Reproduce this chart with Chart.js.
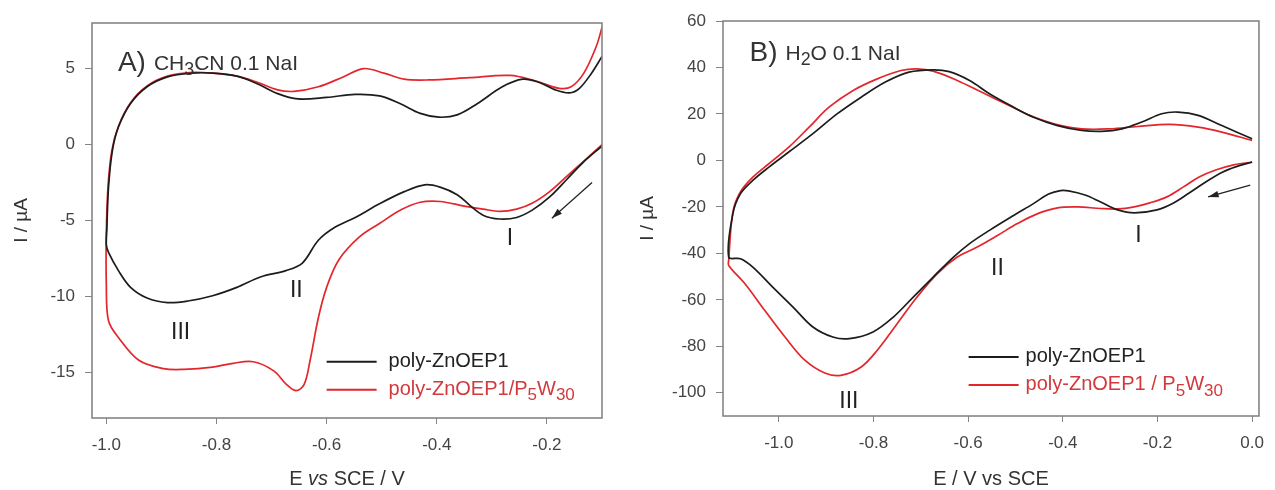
<!DOCTYPE html>
<html>
<head>
<meta charset="utf-8">
<script src="https://cdn.jsdelivr.net/npm/chart.js@4.4.1/dist/chart.umd.min.js"></script>
<style>
  html, body { margin: 0; padding: 0; background: #fff; }
  #wrap { position: relative; width: 1275px; height: 490px; }
  #cvA { position: absolute; left: 0; top: 0; }
  #cvB { position: absolute; left: 640px; top: 0; }
</style>
</head>
<body>
<div id="wrap">
  <canvas id="cvA" width="640" height="490"></canvas>
  <canvas id="cvB" width="635" height="490"></canvas>
</div>
<script>
// ---- panel A: CH3CN 0.1 NaI (E / V, I / uA) ----
// cathodic sweep from the right end, then the return sweep
const aBlackE = [-0.100, -0.135, -0.164, -0.195, -0.226, -0.255, -0.286, -0.316, -0.340, -0.363, -0.394, -0.422, -0.459, -0.504, -0.548, -0.585, -0.615, -0.644, -0.674, -0.719, -0.763, -0.807, -0.852, -0.889, -0.926, -0.956, -0.978, -0.996, -1.000,
                 -0.999, -0.996, -0.989, -0.978, -0.956, -0.926, -0.889, -0.844, -0.807, -0.763, -0.726, -0.689, -0.652, -0.600, -0.548, -0.504, -0.467, -0.430, -0.396, -0.363, -0.326, -0.281, -0.244, -0.215, -0.185, -0.159, -0.141, -0.119, -0.100];
const aBlackI = [-0.1, -1.2, -2.3, -3.45, -4.3, -4.8, -4.9, -4.65, -4.0, -3.3, -2.8, -2.65, -3.1, -3.9, -4.8, -5.45, -6.3, -7.8, -8.3, -8.7, -9.4, -9.95, -10.3, -10.4, -10.1, -9.4, -8.3, -7.1, -6.6,
                 -5.5, -2.8, -0.4, 1.15, 2.7, 3.8, 4.45, 4.7, 4.7, 4.5, 4.0, 3.35, 3.0, 3.1, 3.3, 3.2, 2.7, 2.05, 1.8, 1.95, 2.7, 3.8, 4.3, 4.1, 3.6, 3.4, 3.7, 4.7, 5.8];
const aRedE = [-0.100, -0.135, -0.164, -0.195, -0.226, -0.255, -0.286, -0.316, -0.350, -0.394, -0.430, -0.465, -0.504, -0.541, -0.578, -0.600, -0.615, -0.630, -0.641, -0.656, -0.674, -0.696, -0.733, -0.770, -0.807, -0.859, -0.896, -0.941, -0.978, -0.996, -1.000,
               -1.000, -0.997, -0.990, -0.978, -0.956, -0.926, -0.889, -0.844, -0.807, -0.763, -0.726, -0.689, -0.659, -0.615, -0.570, -0.533, -0.496, -0.459, -0.415, -0.341, -0.267, -0.222, -0.178, -0.156, -0.133, -0.111, -0.100];
const aRedI = [0.0, -1.15, -2.1, -3.1, -3.85, -4.25, -4.4, -4.25, -4.05, -3.75, -3.8, -4.3, -5.2, -6.1, -7.6, -9.4, -11.4, -14.2, -15.8, -16.2, -15.75, -14.9, -14.3, -14.4, -14.65, -14.8, -14.75, -14.2, -12.7, -11.6, -9.2,
               -5.9, -2.8, -0.4, 1.2, 2.75, 3.85, 4.5, 4.75, 4.7, 4.5, 4.1, 3.6, 3.5, 3.8, 4.45, 5.0, 4.7, 4.3, 4.25, 4.4, 4.55, 4.2, 3.7, 3.8, 4.7, 6.4, 7.7];
const aTicksE = [-1.0, -0.8, -0.6, -0.4, -0.2];
const aTicksI = [-15, -10, -5, 0, 5];

// ---- panel B: H2O 0.1 NaI ----
const bBlackE = [0.000, -0.035, -0.062, -0.098, -0.133, -0.166, -0.201, -0.249, -0.284, -0.320, -0.353, -0.388, -0.405, -0.430, -0.462, -0.504, -0.555, -0.597, -0.631, -0.674, -0.716, -0.758, -0.801, -0.851, -0.886, -0.928, -0.970, -1.013, -1.055, -1.081, -1.106,
                 -1.097, -1.081, -1.055, -1.021, -0.979, -0.928, -0.877, -0.826, -0.775, -0.725, -0.674, -0.640, -0.597, -0.555, -0.504, -0.462, -0.411, -0.360, -0.318, -0.275, -0.233, -0.191, -0.157, -0.114, -0.064, 0.000];
const bBlackI = [-0.7, -2.8, -5.0, -9.3, -14.0, -18.3, -21.3, -22.6, -21.3, -17.9, -14.9, -13.1, -13.0, -14.5, -18.6, -23.7, -30.1, -35.8, -41.6, -50.2, -58.8, -67.4, -73.8, -76.7, -76, -71.7, -63.1, -54.5, -45.9, -42.3, -41.6,
                 -22.9, -14.3, -8.6, -2.9, 3.6, 11.5, 20, 27.2, 33.7, 38.0, 39.0, 38.2, 34.4, 28.7, 22.9, 18.6, 15, 12.9, 12.5, 13.6, 16.5, 20.1, 20.8, 19.4, 15, 9.3];
const bRedE = [0.000, -0.041, -0.077, -0.112, -0.145, -0.180, -0.216, -0.249, -0.284, -0.320, -0.369, -0.411, -0.453, -0.496, -0.538, -0.581, -0.623, -0.665, -0.708, -0.750, -0.792, -0.826, -0.869, -0.903, -0.945, -0.987, -1.030, -1.072, -1.106,
               -1.106, -1.097, -1.081, -1.055, -1.021, -0.979, -0.936, -0.894, -0.843, -0.792, -0.742, -0.708, -0.674, -0.623, -0.572, -0.521, -0.470, -0.419, -0.360, -0.301, -0.242, -0.174, -0.114, -0.064, 0.000];
const bRedI = [-0.7, -2.0, -4.1, -7.1, -11.4, -15.7, -18.3, -20, -20.9, -20.7, -20, -20.4, -22.9, -27.2, -32.3, -37.3, -41.6, -48.7, -58.8, -70.3, -81.7, -88.9, -92.5, -91.5, -86, -76, -64.5, -53, -45.2,
               -43, -22, -13.5, -7.2, -1.4, 5.7, 14.3, 22.9, 30.1, 35.1, 38.7, 39.4, 38.4, 34.4, 29.4, 24.4, 19.4, 15.8, 13.6, 13.6, 14.6, 15.5, 14.3, 12.2, 8.6];
const bTicksE = [-1.0, -0.8, -0.6, -0.4, -0.2, 0.0];
const bTicksI = [-100, -80, -60, -40, -20, 0, 20, 40, 60];

const FONT = '"Liberation Sans", Arial, sans-serif';
const BLACK = '#1c1c1c';
const RED = '#e3262b';

function pts(es, is) { return es.map((e, k) => ({ x: e, y: is[k] })); }

// text with _{sub} and *italic* pieces, left aligned, returns width
function rich(ctx, str, x, y, size, color, draw) {
  const parts = [];
  const re = /_\{([^}]*)\}|\*([^*]*)\*/g;
  let last = 0, m;
  while ((m = re.exec(str))) {
    if (m.index > last) parts.push({ t: str.slice(last, m.index) });
    if (m[1] !== undefined) parts.push({ t: m[1], sub: true });
    else parts.push({ t: m[2], it: true });
    last = re.lastIndex;
  }
  if (last < str.length) parts.push({ t: str.slice(last) });
  const font = p => (p.it ? 'italic ' : '') + (p.sub ? size * 0.85 : size) + 'px ' + FONT;
  ctx.fillStyle = color;
  ctx.textBaseline = 'middle';
  ctx.textAlign = 'left';
  let cx = x;
  parts.forEach(p => {
    ctx.font = font(p);
    if (draw !== false) ctx.fillText(p.t, cx, y + (p.sub ? size * 0.3 : 0));
    cx += ctx.measureText(p.t).width;
  });
  return cx - x;
}

function decor(cfg) {
  return {
    id: 'decor',
    afterDatasetsDraw(chart) {
      const { ctx, chartArea: a, scales: { x, y } } = chart;
      ctx.save();
      ctx.strokeStyle = '#858585';
      ctx.lineWidth = 1.6;
      ctx.strokeRect(a.left, a.top, a.width, a.height);

      // panel tag
      ctx.fillStyle = '#333';
      ctx.font = '28px ' + FONT;
      ctx.textBaseline = 'middle';
      ctx.textAlign = 'left';
      const tx = x.getPixelForValue(cfg.tag.e), ty = y.getPixelForValue(cfg.tag.i);
      ctx.fillText(cfg.tag.text, tx, ty);
      const tw = ctx.measureText(cfg.tag.text).width + 8;
      rich(ctx, cfg.tag.caption, tx + tw, ty + 1, 21, '#333');

      // peak labels
      ctx.fillStyle = '#222';
      cfg.peaks.forEach(p => {
        ctx.font = '23px ' + FONT;
        ctx.textAlign = 'center';
        ctx.textBaseline = 'middle';
        ctx.fillText(p.text, x.getPixelForValue(p.e), y.getPixelForValue(p.i));
      });

      // scan direction arrow
      const x0 = x.getPixelForValue(cfg.arrow.e0), y0 = y.getPixelForValue(cfg.arrow.i0);
      const x1 = x.getPixelForValue(cfg.arrow.e1), y1 = y.getPixelForValue(cfg.arrow.i1);
      ctx.strokeStyle = '#222';
      ctx.lineWidth = 1.3;
      ctx.beginPath(); ctx.moveTo(x0, y0); ctx.lineTo(x1, y1); ctx.stroke();
      const ang = Math.atan2(y1 - y0, x1 - x0);
      ctx.fillStyle = '#222';
      ctx.beginPath();
      ctx.moveTo(x1, y1);
      ctx.lineTo(x1 - 11 * Math.cos(ang - 0.3), y1 - 11 * Math.sin(ang - 0.3));
      ctx.lineTo(x1 - 11 * Math.cos(ang + 0.3), y1 - 11 * Math.sin(ang + 0.3));
      ctx.closePath(); ctx.fill();

      // legend
      const lx = x.getPixelForValue(cfg.legend.e), ly = y.getPixelForValue(cfg.legend.i);
      chart.data.datasets.forEach((ds, k) => {
        const yy = ly + k * cfg.legend.gap;
        ctx.strokeStyle = ds.borderColor;
        ctx.lineWidth = 2;
        ctx.beginPath(); ctx.moveTo(lx, yy); ctx.lineTo(lx + 50, yy); ctx.stroke();
        rich(ctx, ds.label, lx + cfg.legend.textDx, yy, 20, k === 0 ? '#222' : '#d3383c');
      });

      // axis titles
      const cxm = (a.left + a.right) / 2;
      const wTitle = rich(ctx, cfg.xTitle, 0, 0, 20, '#333', false);
      rich(ctx, cfg.xTitle, cxm - wTitle / 2, 479, 20, '#333');
      ctx.translate(cfg.yTitleX, (a.top + a.bottom) / 2);
      ctx.rotate(-Math.PI / 2);
      ctx.font = '19px ' + FONT;
      ctx.textAlign = 'center';
      ctx.textBaseline = 'middle';
      ctx.fillStyle = '#333';
      ctx.fillText(cfg.yTitle, 0, 0);
      ctx.restore();
    }
  };
}

function panel(id, o) {
  return new Chart(document.getElementById(id), {
    type: 'line',
    data: {
      datasets: [
        { label: 'poly-ZnOEP1', data: o.black, borderColor: BLACK },
        { label: o.redLabel, data: o.red, borderColor: RED }
      ]
    },
    options: {
      responsive: false,
      animation: false,
      events: [],
      parsing: false,
      elements: {
        line: { borderWidth: 1.7, tension: 0.35, fill: false },
        point: { radius: 0 }
      },
      layout: { padding: o.pad },
      plugins: { legend: { display: false }, tooltip: { enabled: false } },
      scales: {
        x: {
          type: 'linear', min: o.xMin, max: o.xMax,
          afterBuildTicks: s => { s.ticks = o.xTicks.map(v => ({ value: v })); },
          afterFit: s => { s.height = o.xAxisH; },
          ticks: { callback: v => v.toFixed(1), font: { family: FONT, size: 17 }, color: '#444', padding: 11, maxRotation: 0 },
          grid: { drawOnChartArea: false, drawTicks: true, tickLength: 6, color: '#858585' },
          border: { display: false }
        },
        y: {
          type: 'linear', min: o.yMin, max: o.yMax,
          afterBuildTicks: s => { s.ticks = o.yTicks.map(v => ({ value: v })); },
          afterFit: s => { s.width = o.yAxisW; },
          ticks: { callback: v => String(v), font: { family: FONT, size: 17 }, color: '#444', padding: 10 },
          grid: { drawOnChartArea: false, drawTicks: true, tickLength: 7, color: '#858585' },
          border: { display: false }
        }
      }
    },
    plugins: [decor(o.decor)]
  });
}

panel('cvA', {
  black: pts(aBlackE, aBlackI), red: pts(aRedE, aRedI),
  redLabel: 'poly-ZnOEP1/P_{5}W_{30}',
  xMin: -1.026, xMax: -0.1, yMin: -18, yMax: 8,
  xTicks: aTicksE, yTicks: aTicksI,
  pad: { left: 0, right: 38, top: 23, bottom: 0 }, yAxisW: 92, xAxisH: 72,
  decor: {
    tag: { text: 'A)', caption: 'CH_{3}CN 0.1 NaI', e: -0.979, i: 5.37 },
    peaks: [{ text: 'I', e: -0.267, i: -6.2 }, { text: 'II', e: -0.655, i: -9.6 }, { text: 'III', e: -0.865, i: -12.4 }],
    arrow: { e0: -0.118, i0: -2.5, e1: -0.191, i1: -4.85 },
    legend: { e: -0.600, i: -14.3, gap: 28, textDx: 62 },
    xTitle: 'E *vs* SCE / V', yTitle: 'I / \u00b5A', yTitleX: 22
  }
});

panel('cvB', {
  black: pts(bBlackE, bBlackI), red: pts(bRedE, bRedI),
  redLabel: 'poly-ZnOEP1 / P_{5}W_{30}',
  xMin: -1.118, xMax: 0.0145, yMin: -110, yMax: 60,
  xTicks: bTicksE, yTicks: bTicksI,
  pad: { left: 0, right: 6, top: 21, bottom: 0 }, yAxisW: 83, xAxisH: 74,
  decor: {
    tag: { text: 'B)', caption: 'H_{2}O 0.1 NaI', e: -1.062, i: 46.2 },
    peaks: [{ text: 'I', e: -0.240, i: -32.5 }, { text: 'II', e: -0.538, i: -46.6 }, { text: 'III', e: -0.852, i: -104 }],
    arrow: { e0: -0.004, i0: -10.6, e1: -0.093, i1: -15.7 },
    legend: { e: -0.599, i: -84.6, gap: 28, textDx: 57 },
    xTitle: 'E / V vs SCE', yTitle: 'I / \u00b5A', yTitleX: 8
  }
});
</script>
</body>
</html>
